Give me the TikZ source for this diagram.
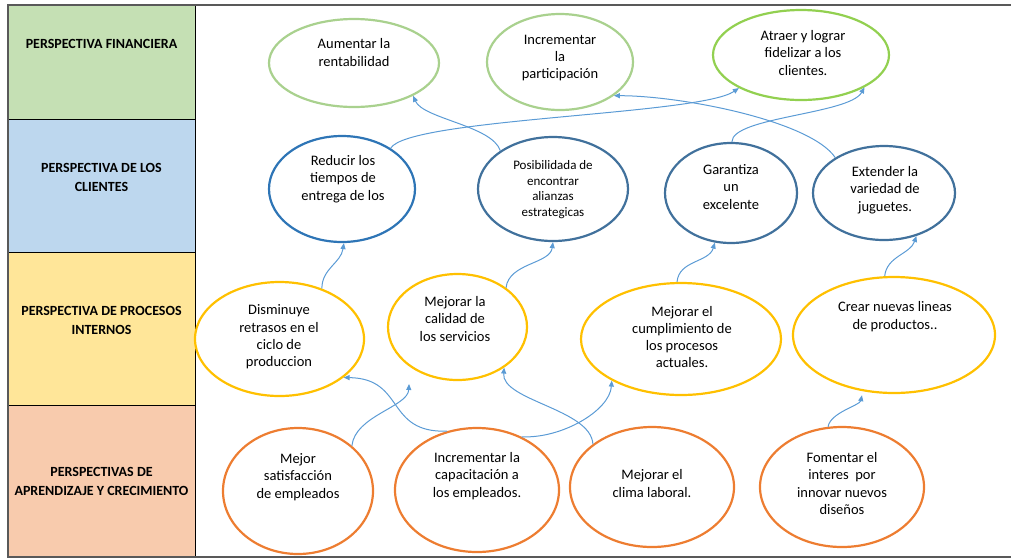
\documentclass[tikz,border=0pt]{standalone}
\usepackage{fontspec}
\setmainfont{Carlito}
\usepackage{tikz}
\usetikzlibrary{arrows.meta,shapes.geometric}
\definecolor{bandfin}{HTML}{C5E0B4}
\definecolor{bandcli}{HTML}{BDD7EE}
\definecolor{bandpro}{HTML}{FFE699}
\definecolor{bandapr}{HTML}{F8CBAD}
\definecolor{finlight}{HTML}{A9D18E}
\definecolor{fingreen}{HTML}{92D050}
\definecolor{cliblue}{HTML}{2E75B6}
\definecolor{clidark}{HTML}{41719C}
\definecolor{progold}{HTML}{FFC000}
\definecolor{aprorange}{HTML}{ED7D31}
\definecolor{linkblue}{HTML}{5B9BD5}
\definecolor{framegray}{HTML}{595959}

\begin{document}
\begin{tikzpicture}[x=1pt,y=-1pt,
  goal/.style={ellipse,draw,line width=2.2pt,inner sep=0pt},
  txt/.style={align=center,inner sep=0pt,font=\fontsize{14.5}{17.3}\selectfont},
  head/.style={align=center,inner sep=0pt,font=\bfseries\fontsize{14}{19}\selectfont},
  link/.style={draw=linkblue,line width=1pt,-{Triangle[length=6pt,width=5pt]}}]
  \useasboundingbox (0,0) rectangle (1011,558);
  % bands of the four perspectives
  \draw[fill=bandfin] (8,5) rectangle (195,119);
  \draw[fill=bandcli] (8,119) rectangle (195,252);
  \draw[fill=bandpro] (8,252) rectangle (195,405);
  \draw[fill=bandapr] (8,405) rectangle (195,557);
  \node[head] (h-fin) at (101.5,44) {PERSPECTIVA FINANCIERA};
  \node[head] (h-cli) at (101.5,177) {PERSPECTIVA DE LOS\\CLIENTES};
  \node[head] (h-pro) at (101.5,320) {PERSPECTIVA DE PROCESOS\\INTERNOS};
  \node[head] (h-apr) at (101.5,481) {PERSPECTIVAS DE\\APRENDIZAJE Y CRECIMIENTO};

  % financiera
  \node[goal,draw=finlight,minimum width=170pt,minimum height=88pt] (rent) at (354,63) {};
  \node[txt] (rent-t) at (354,52.5) {Aumentar la\\rentabilidad};
  \node[goal,draw=finlight,minimum width=146pt,minimum height=96pt] (part) at (560,62) {};
  \node[txt] (part-t) at (560,58) {Incrementar\\la\\participación};
  \node[goal,draw=fingreen,minimum width=176pt,minimum height=90pt] (fidel) at (801,55) {};
  \node[txt] (fidel-t) at (803,53) {Atraer y lograr\\fidelizar a los\\clientes.};
  % clientes
  \node[goal,draw=cliblue,minimum width=146pt,minimum height=106pt] (tiempo) at (342,189) {};
  \node[txt] (tiempo-t) at (343,179) {Reducir los\\tiempos de\\entrega de los};
  \node[goal,draw=clidark,minimum width=150pt,minimum height=104pt] (alian) at (553,189) {};
  \node[txt,font=\fontsize{13}{15.7}\selectfont] (alian-t) at (553,189.5) {Posibilidada de\\encontrar\\alianzas\\estrategicas};
  \node[goal,draw=clidark,minimum width=132pt,minimum height=100pt] (garan) at (731,193) {};
  \node[txt] (garan-t) at (731,187) {Garantiza\\un\\excelente};
  \node[goal,draw=clidark,minimum width=142pt,minimum height=94pt] (jugu) at (884,193) {};
  \node[txt] (jugu-t) at (885,190) {Extender la\\variedad de\\juguetes.};
  % procesos internos
  \node[goal,draw=progold,minimum width=169pt,minimum height=114pt] (retra) at (279.5,339) {};
  \node[txt] (retra-t) at (279,337) {Disminuye\\retrasos en el\\ciclo de\\produccion};
  \node[goal,draw=progold,minimum width=139pt,minimum height=106pt] (calid) at (457.5,327) {};
  \node[txt] (calid-t) at (455,319) {Mejorar la\\calidad de\\los servicios};
  \node[goal,draw=progold,minimum width=200pt,minimum height=112pt] (cumpl) at (681,339) {};
  \node[txt] (cumpl-t) at (682,337) {Mejorar el\\cumplimiento de\\los procesos\\actuales.};
  \node[goal,draw=progold,minimum width=202pt,minimum height=116pt] (lineas) at (894,335) {};
  \node[txt] (lineas-t) at (895,316.5) {Crear nuevas lineas\\de productos..};
  % aprendizaje y crecimiento
  \node[goal,draw=aprorange,minimum width=150pt,minimum height=126pt] (satis) at (298,491) {};
  \node[txt] (satis-t) at (298,477) {Mejor\\satisfacción\\de empleados};
  \node[goal,draw=aprorange,minimum width=164pt,minimum height=124pt] (capac) at (477,490) {};
  \node[txt] (capac-t) at (477,476) {Incrementar la\\capacitación a\\los empleados.};
  \node[goal,draw=aprorange,minimum width=164pt,minimum height=120pt] (clima) at (652,487) {};
  \node[txt] (clima-t) at (652,483.5) {Mejorar el\\clima laboral.};
  \node[goal,draw=aprorange,minimum width=164pt,minimum height=120pt] (foment) at (842,487) {};
  \node[txt] (foment-t) at (842,483.5) {Fomentar el\\interes\ \ por\\innovar nuevos\\diseños};

  % links between objectives
  \draw[link] (retra.50) .. controls +(0,-20) and +(-3,20) .. (tiempo.-88);
  \draw[link] (calid.39) .. controls +(3,-25) and +(-3,22) .. (alian.-90);
  \draw[link] (cumpl.94) .. controls +(2,-22) and +(-6,20) .. (garan.-108);
  \draw[link] (lineas.99) .. controls +(2,-20) and +(-6,18) .. (jugu.-53);
  \draw[link,shorten >=17pt] (satis.40) .. controls +(3,-30) and +(-2,40) .. (calid.-140);
  \draw[link] (capac.117) .. controls +(-62,2) and +(62,1) .. (retra.-31);
  \draw[link] (capac.50) .. controls +(40,2) and +(-2,30) .. (cumpl.-149);
  \draw[link] (clima.144) .. controls +(-2,-35) and +(-3,33) .. (calid.-41);
  \draw[link,shorten >=4pt] (foment.103) .. controls +(2,-14) and +(-3,14) .. (lineas.-119);
  \draw[link] (alian.144) .. controls +(-8,-25) and +(10,23) .. (rent.-29);
  \draw[link] (tiempo.40) .. controls +(18,-30) and +(-39,27) .. (fidel.-152);
  \draw[link] (jugu.144) .. controls +(-25,-37) and +(67,0) .. (part.-32);
  \draw[link] (garan.89) .. controls +(0,-25) and +(-15,27) .. (fidel.-27);

  % outer frame
  \draw[line width=1.5pt,framegray] (1011,5) -- (8,5) -- (8,557) -- (1011,557);
\end{tikzpicture}
\end{document}
